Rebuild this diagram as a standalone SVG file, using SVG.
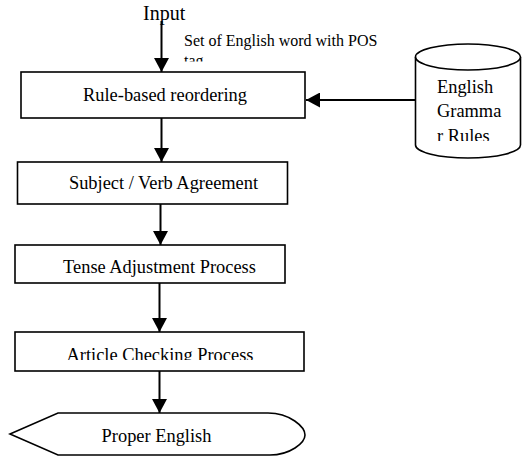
<svg xmlns="http://www.w3.org/2000/svg" width="522" height="457" viewBox="0 0 522 457">
<style>
.box{fill:#fff;stroke:#000;stroke-width:1.6}
.t{font-family:"Liberation Serif","Times New Roman",serif;font-size:18.4px;fill:#000}
.c{text-anchor:middle}
.con line{stroke:#000;stroke-width:2}
</style>
<defs>
<marker id="ah" markerUnits="userSpaceOnUse" markerWidth="14" markerHeight="15" refX="14" refY="7.5" orient="auto">
<path d="M0,0 L14,7.5 L0,15 Z" fill="#000"/>
</marker>
<clipPath id="clipTag"><rect x="170" y="40" width="250" height="21.5"/></clipPath>
<clipPath id="clipArt"><rect x="15" y="332" width="290" height="28"/></clipPath>
<clipPath id="clipRules"><rect x="416" y="70" width="105" height="71"/></clipPath>
</defs>

<g id="input">
<text class="t" x="143" y="20" style="font-size:20px">Input</text>
</g>
<g id="input-label">
<text class="t" x="184" y="46" style="font-size:16px">Set of English word with POS</text>
<text class="t" x="184" y="65.5" style="font-size:16px" clip-path="url(#clipTag)">tag</text>
</g>

<g id="rule-based">
<rect class="box" x="21" y="72" width="284" height="46"/>
<text class="t c" x="165" y="101">Rule-based reordering</text>
</g>

<g id="grammar-rules">
<path class="box" d="M415.5,57 L415.5,145 A52.5,13 0 0 0 520.5,145 L520.5,57"/>
<ellipse class="box" cx="468" cy="57" rx="52.5" ry="13"/>
<g clip-path="url(#clipRules)">
<text class="t" x="437" y="92.5">English</text>
<text class="t" x="437" y="117">Gramma</text>
<text class="t" x="437" y="141.5">r Rules</text>
</g>
</g>

<g id="subject-verb">
<rect class="box" x="17.5" y="162" width="270" height="42"/>
<text class="t c" x="163.5" y="189">Subject / Verb Agreement</text>
</g>

<g id="tense">
<rect class="box" x="15" y="245" width="270" height="38"/>
<text class="t c" x="159.5" y="273">Tense Adjustment Process</text>
</g>

<g id="article">
<rect class="box" x="15" y="332" width="289" height="39"/>
<text class="t c" x="160" y="360.5" clip-path="url(#clipArt)">Article Checking Process</text>
</g>

<g id="proper-english">
<path class="box" d="M10,434 L58,413 L268,413 C290,413 305,427 305,435 C305,443 290,455 270,455 L58,455 Z"/>
<text class="t c" x="156.5" y="441.5">Proper English</text>
</g>

<g id="connectors" class="con">
<line x1="161.5" y1="21" x2="161.5" y2="72" marker-end="url(#ah)"/>
<line x1="161.5" y1="118" x2="161.5" y2="162" marker-end="url(#ah)"/>
<line x1="160.5" y1="204" x2="160.5" y2="245" marker-end="url(#ah)"/>
<line x1="159.5" y1="283" x2="159.5" y2="332" marker-end="url(#ah)"/>
<line x1="159.5" y1="371" x2="159.5" y2="413" marker-end="url(#ah)"/>
<line x1="415.5" y1="100" x2="306" y2="100" marker-end="url(#ah)"/>
</g>
</svg>
